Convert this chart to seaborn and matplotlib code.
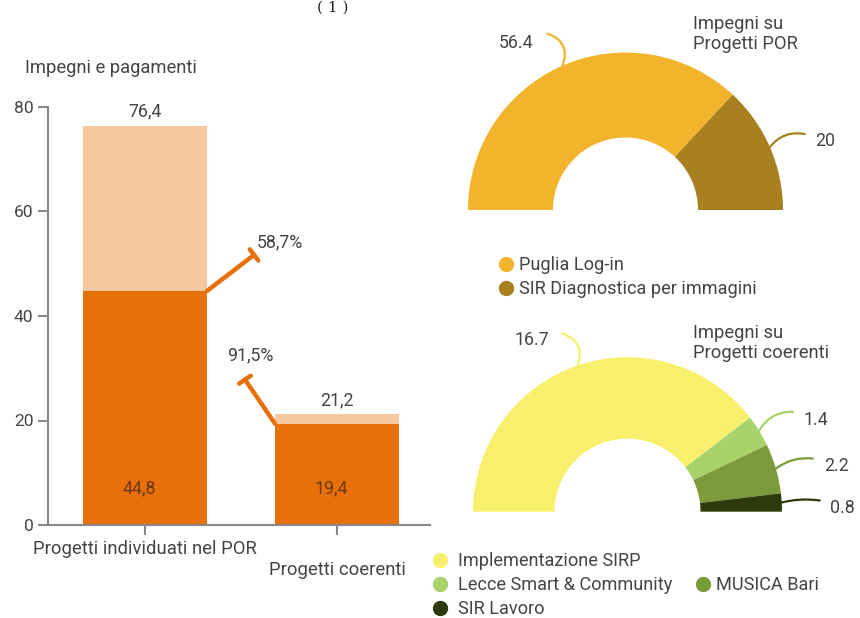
import numpy as np
import pandas as pd
import seaborn as sns
import matplotlib.pyplot as plt
from matplotlib.lines import Line2D

# dati del grafico a barre (milioni di euro)
categories = ["Progetti individuati nel POR", "Progetti coerenti"]
impegni = [76.4, 21.2]
pagamenti = [44.8, 19.4]
quota_pagata = ["58,7%", "91,5%"]

# dati delle mezze ciambelle
por_labels = ["Puglia Log-in", "SIR Diagnostica per immagini"]
por_values = [56.4, 20]
coer_labels = ["Implementazione SIRP", "Lecce Smart & Community", "MUSICA Bari", "SIR Lavoro"]
coer_values = [16.7, 1.4, 2.2, 0.8]

# colori
light_orange = "#F6C8A0"
orange = "#E8700A"
por_colors = ["#F2B42C", "#A88020"]
coer_colors = ["#F8F06C", "#A8D26A", "#7B9A39", "#2E3A0C"]
txt = "#444444"

sns.set_style("white")
plt.rcParams['font.family'] = ['Roboto', 'DejaVu Sans']
plt.rcParams['font.size'] = 12

W, H = 860, 618
fig = plt.figure(figsize=(W / 100, H / 100), dpi=100)

def fmt(v):
    return "{:.1f}".format(v).replace(".", ",")

# ---- barre ----
ax = fig.add_axes([48 / W, 1 - 525 / H, (430 - 48) / W, (525 - 107) / H])
df = pd.DataFrame({"categoria": categories, "impegni": impegni, "pagamenti": pagamenti})
bw = 0.646
sns.barplot(data=df, x="categoria", y="impegni", color=light_orange, saturation=1,
            width=bw, linewidth=0, ax=ax)
sns.barplot(data=df, x="categoria", y="pagamenti", color=orange, saturation=1,
            width=bw, linewidth=0, ax=ax)
ax.set_xlim(-0.505, 1.484)
ax.set_ylim(0, 80)
ax.set_yticks([0, 20, 40, 60, 80])
ax.set_xlabel("")
ax.set_ylabel("")
ax.set_xticks([0, 1])
ax.set_xticklabels([categories[0], "\n" + categories[1]], color=txt, fontsize=13.3)
ax.tick_params(axis="y", colors="#888888", labelcolor=txt, length=7, width=1.5,
               direction="out", left=True, labelsize=12.5)
ax.tick_params(axis="x", colors="#888888", labelcolor=txt, length=7, width=1.5,
               direction="out", bottom=True, pad=4)
for s in ["top", "right"]:
    ax.spines[s].set_visible(False)
for s in ["left", "bottom"]:
    ax.spines[s].set_color("#888888")
    ax.spines[s].set_linewidth(1.5)

for i in range(len(categories)):
    ax.text(i, impegni[i] + 1.0, fmt(impegni[i]), ha="center", va="bottom",
            color=txt, fontsize=12.8)
    ax.text(i - 0.03, 7, fmt(pagamenti[i]), ha="center", va="center",
            color="#6E3812", fontsize=12.8)

# connettori con la quota pagata
ax.annotate("", xy=(bw / 2, pagamenti[0]), xytext=(47, 36), textcoords="offset pixels",
            arrowprops=dict(arrowstyle="]-,widthA=0.42,lengthA=0", color=orange,
                            lw=3.2, shrinkA=0, shrinkB=0))
ax.annotate(quota_pagata[0], xy=(bw / 2, pagamenti[0]), xytext=(73, 49),
            textcoords="offset pixels", ha="center", va="center", color=txt, fontsize=12.8)
ax.annotate("", xy=(1 - bw / 2, pagamenti[1]), xytext=(-30, 44), textcoords="offset pixels",
            arrowprops=dict(arrowstyle="]-,widthA=0.42,lengthA=0", color=orange,
                            lw=3.2, shrinkA=0, shrinkB=0))
ax.annotate(quota_pagata[1], xy=(1 - bw / 2, pagamenti[1]), xytext=(-25, 68),
            textcoords="offset pixels", ha="center", va="center", color=txt, fontsize=12.8)

fig.text(25 / W, 1 - 68 / H, "Impegni e pagamenti", ha="left", va="center",
         color=txt, fontsize=13.2)
fig.text(333 / W, 1 - 1 / H, "( 1 )", ha="center", va="top", color="#222222",
         fontsize=11, family="DejaVu Serif")


# ---- mezze ciambelle ----
def donut(values, colors, cx, cy, r, r_in, box, offsets):
    x0, y0, x1, y1 = box
    dax = fig.add_axes([x0 / W, 1 - y1 / H, (x1 - x0) / W, (y1 - y0) / H])
    wedges, _ = dax.pie(values + [sum(values)], colors=colors + ["white"],
                        startangle=180, counterclock=False, radius=1,
                        wedgeprops=dict(width=(r - r_in) / r, linewidth=0))
    wedges[-1].set_visible(False)
    dax.set_xlim((x0 - cx) / r, (x1 - cx) / r)
    dax.set_ylim((cy - y1) / r, (cy - y0) / r)
    for w, v, c, (lend, tpos, rad) in zip(wedges[:-1], values, colors, offsets):
        a = np.deg2rad((w.theta1 + w.theta2) / 2)
        p = (np.cos(a), np.sin(a))
        dax.annotate("", xy=p, xytext=lend, textcoords="offset pixels",
                     arrowprops=dict(arrowstyle="-", color=c, lw=1.6, shrinkA=0, shrinkB=0,
                                     connectionstyle="arc3,rad={}".format(rad)))
        lab = "{:g}".format(v)
        dax.annotate(lab, xy=p, xytext=tpos, textcoords="offset pixels", ha="center",
                     va="center", color=txt, fontsize=12.8, annotation_clip=False)
    return dax, wedges

por_off = [((-15, 32), (-47, 23), -0.5), ((35, 13), (55, 6), 0.3)]
donut(por_values, por_colors, 625.5, 210, 157.5, 72.5, (440, 0, 860, 250), por_off)
coer_off = [((-16, 32), (-46, 25), -0.5), ((34, 19), (57, 11), 0.3),
            ((37, 10), (61, 3), 0.2), ((38, 2), (61, -5), 0.1)]
donut(coer_values, coer_colors, 627.5, 511.7, 154.5, 73, (440, 300, 860, 540), coer_off)

fig.text(693 / W, 1 - 34 / H, "Impegni su\nProgetti POR", ha="left", va="center",
         color=txt, fontsize=13.2, linespacing=1.15)
fig.text(693 / W, 1 - 343 / H, "Impegni su\nProgetti coerenti", ha="left", va="center",
         color=txt, fontsize=13.2, linespacing=1.15)

# ---- legende ----
def handles(colors):
    return [Line2D([], [], marker="o", ls="", color=c, markersize=10) for c in colors]

leg_kw = dict(frameon=False, borderpad=0, borderaxespad=0, handlelength=0.8,
              labelspacing=0.33, fontsize=13.1, labelcolor=txt, loc="center left")
fig.legend(handles(por_colors), por_labels, handletextpad=0.3,
           bbox_to_anchor=(499 / W, 1 - 277 / H), **leg_kw)
idx = [0, 1, 3]
fig.legend(handles([coer_colors[i] for i in idx]), [coer_labels[i] for i in idx],
           handletextpad=0.55, bbox_to_anchor=(433 / W, 1 - 585 / H), **leg_kw)
fig.legend(handles([coer_colors[2]]), [coer_labels[2]], handletextpad=0.3,
           bbox_to_anchor=(696 / W, 1 - 585 / H), **leg_kw)

fig.savefig("out.png", dpi=100)
